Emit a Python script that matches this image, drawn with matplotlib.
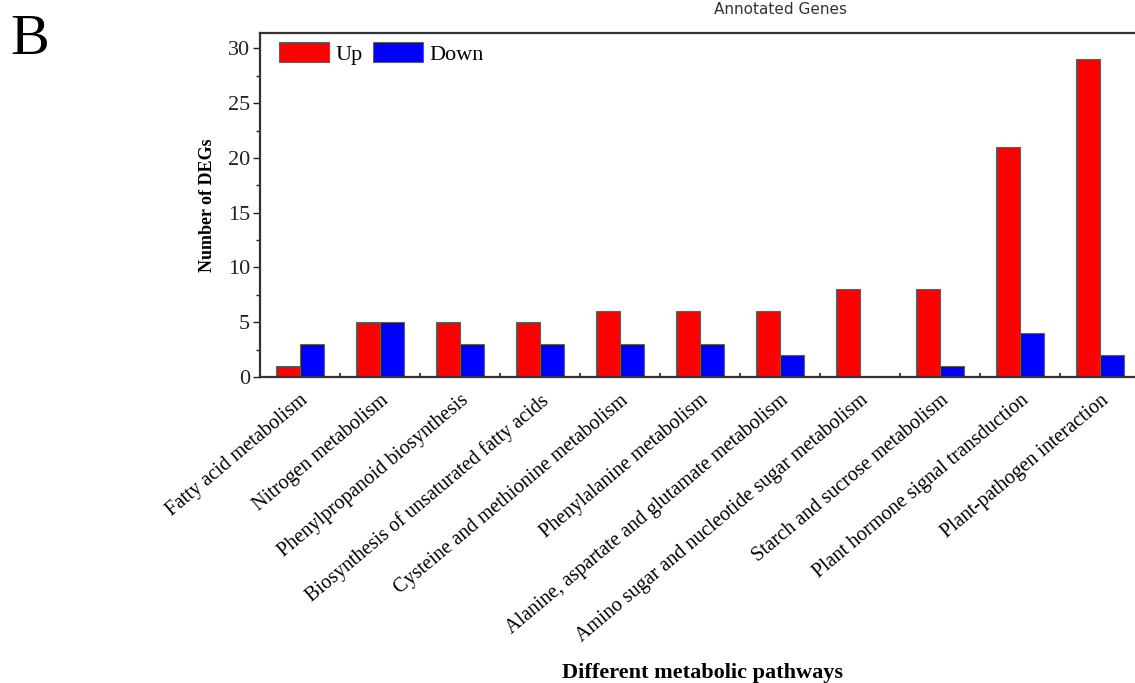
import matplotlib
matplotlib.use("Agg")
import matplotlib.pyplot as plt
import numpy as np

# Pathway categories and DEG counts
pathways = [
    "Fatty acid metabolism",
    "Nitrogen metabolism",
    "Phenylpropanoid biosynthesis",
    "Biosynthesis of unsaturated fatty acids",
    "Cysteine and methionine metabolism",
    "Phenylalanine metabolism",
    "Alanine, aspartate and glutamate metabolism",
    "Amino sugar and nucleotide sugar metabolism",
    "Starch and sucrose metabolism",
    "Plant hormone signal transduction",
    "Plant-pathogen interaction",
]
up_counts = [1, 5, 5, 5, 6, 6, 6, 8, 8, 21, 29]
down_counts = [3, 5, 3, 3, 3, 3, 2, 0, 1, 4, 2]
y_ticks = [0, 5, 10, 15, 20, 25, 30]

serif = ["Liberation Serif", "DejaVu Serif"]
plt.rcParams["font.family"] = serif

W, H = 1135, 683
fig = plt.figure(figsize=(W / 100, H / 100), dpi=100)

left, right, top, bottom = 260, 1135, 33, 377
ax = fig.add_axes([left / W, 1 - bottom / H, (right - left) / W, (bottom - top) / H])

x = np.arange(len(pathways))
bw = 0.3
ax.bar(x - bw / 2, up_counts, bw, color="#ff0000", edgecolor="#606060",
       linewidth=0.8, label="Up", zorder=2)
ax.bar(x + bw / 2, down_counts, bw, color="#0000ff", edgecolor="#606060",
       linewidth=0.8, label="Down", zorder=2)

ax.set_xlim(-0.5, (right - 300) / 80)
ax.set_ylim(0, 31.4)

ax.set_yticks(y_ticks)
ax.set_yticks(np.arange(2.5, 31, 5), minor=True)
ax.tick_params(axis="y", which="major", direction="out", length=5, width=1,
               labelsize=16, pad=2, colors="#222222")
ax.tick_params(axis="y", which="minor", direction="out", length=3, width=1,
               colors="#222222")

ax.set_xticks(x)
ax.set_xticklabels(pathways, rotation=40, ha="right", va="top",
                   rotation_mode="anchor", fontsize=14.5)
ax.set_xticks(np.arange(0.5, len(pathways) - 0.5, 1), minor=True)
ax.tick_params(axis="x", which="major", length=0, pad=10)
ax.tick_params(axis="x", which="minor", direction="in", length=3, width=1.2,
               colors="#222222")

for side in ("left", "bottom", "top"):
    ax.spines[side].set_linewidth(1.6)
    ax.spines[side].set_color("#333333")
ax.spines["right"].set_visible(False)

ax.set_ylabel("Number of DEGs", fontsize=13, fontweight="bold", labelpad=9)
fig.text(702 / W, 1 - 673 / H, "Different metabolic pathways", fontsize=16,
         fontweight="bold", ha="center", va="center")

leg = ax.legend(loc="upper left", bbox_to_anchor=(19 / 875, 1 - 9 / 344),
                ncol=2, frameon=False, fontsize=16, borderpad=0,
                borderaxespad=0, handlelength=2.25, handleheight=1.0,
                handletextpad=0.3, columnspacing=0.45)

fig.text(780 / W, 1 - 10 / H, "Annotated Genes", fontsize=11,
         family="DejaVu Sans", color="#333333", ha="center", va="center")
fig.text(10 / W, 1 - 54 / H, "B", fontsize=42, ha="left", va="baseline")

fig.savefig("out.png", dpi=100)
